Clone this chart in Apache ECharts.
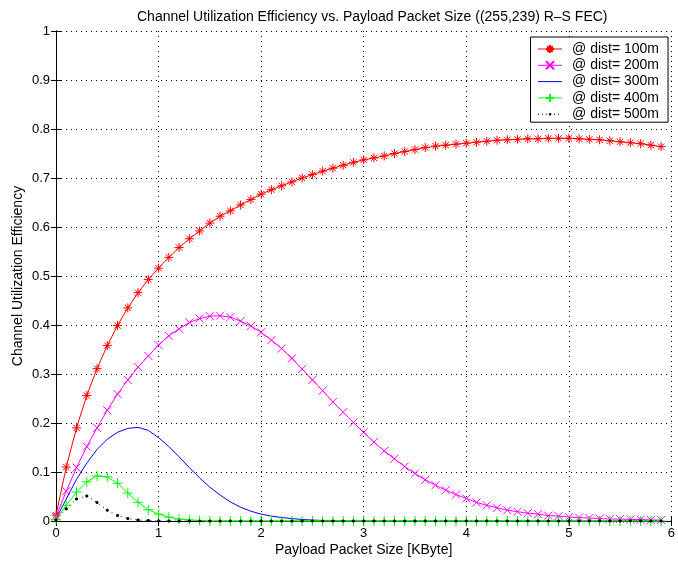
<!DOCTYPE html>
<html>
<head>
<meta charset="utf-8">
<script src="https://cdn.jsdelivr.net/npm/echarts@6/dist/echarts.min.js"></script>
<style>
  html, body { margin: 0; padding: 0; background: #fff; }
  #main { width: 678px; height: 563px; }
</style>
</head>
<body>
<div id="main"></div>
<script>
// payload size [KByte], one sample every 0.1
var xs = [0.0, 0.1, 0.2, 0.3, 0.4, 0.5, 0.6, 0.7, 0.8, 0.9,
	1.0, 1.1, 1.2, 1.3, 1.4, 1.5, 1.6, 1.7, 1.8, 1.9,
	2.0, 2.1, 2.2, 2.3, 2.4, 2.5, 2.6, 2.7, 2.8, 2.9,
	3.0, 3.1, 3.2, 3.3, 3.4, 3.5, 3.6, 3.7, 3.8, 3.9,
	4.0, 4.1, 4.2, 4.3, 4.4, 4.5, 4.6, 4.7, 4.8, 4.9,
	5.0, 5.1, 5.2, 5.3, 5.4, 5.5, 5.6, 5.7, 5.8, 5.9];

var eff100 = [0.012, 0.110, 0.190, 0.256, 0.311, 0.358, 0.399, 0.435, 0.466, 0.493,
	0.516, 0.538, 0.558, 0.576, 0.592, 0.608, 0.622, 0.633, 0.645, 0.656,
	0.667, 0.676, 0.684, 0.692, 0.700, 0.707, 0.714, 0.720, 0.726, 0.732,
	0.737, 0.741, 0.745, 0.750, 0.754, 0.758, 0.762, 0.765, 0.767, 0.769,
	0.771, 0.773, 0.775, 0.777, 0.778, 0.779, 0.780, 0.780, 0.781, 0.781,
	0.781, 0.780, 0.779, 0.778, 0.776, 0.774, 0.772, 0.770, 0.767, 0.764];

var eff200 = [0.009, 0.061, 0.109, 0.152, 0.190, 0.226, 0.259, 0.288, 0.314, 0.337,
	0.359, 0.378, 0.392, 0.405, 0.413, 0.418, 0.419, 0.416, 0.408, 0.398,
	0.385, 0.369, 0.352, 0.332, 0.310, 0.288, 0.266, 0.243, 0.222, 0.201,
	0.181, 0.161, 0.143, 0.127, 0.111, 0.097, 0.084, 0.073, 0.063, 0.054,
	0.046, 0.038, 0.032, 0.027, 0.022, 0.019, 0.016, 0.014, 0.011, 0.010,
	0.008, 0.007, 0.006, 0.005, 0.004, 0.004, 0.003, 0.003, 0.002, 0.002];

var eff300 = [0.005, 0.045, 0.085, 0.118, 0.146, 0.167, 0.181, 0.189, 0.191, 0.185,
	0.170, 0.152, 0.131, 0.109, 0.088, 0.069, 0.053, 0.039, 0.028, 0.020,
	0.014, 0.010, 0.007, 0.005, 0.003, 0.002, 0.001, 0.001, 0, 0,
	0, 0, 0, 0, 0, 0, 0, 0, 0, 0,
	0, 0, 0, 0, 0, 0, 0, 0, 0, 0,
	0, 0, 0, 0, 0, 0, 0, 0, 0, 0];

var eff400 = [0.003, 0.032, 0.059, 0.080, 0.092, 0.090, 0.077, 0.057, 0.038, 0.023,
	0.014, 0.008, 0.004, 0.002, 0.001, 0, 0, 0, 0, 0,
	0, 0, 0, 0, 0, 0, 0, 0, 0, 0,
	0, 0, 0, 0, 0, 0, 0, 0, 0, 0,
	0, 0, 0, 0, 0, 0, 0, 0, 0, 0,
	0, 0, 0, 0, 0, 0, 0, 0, 0, 0];

var eff500 = [0.002, 0.025, 0.045, 0.051, 0.038, 0.022, 0.011, 0.005, 0.002, 0.001,
	0, 0, 0, 0, 0, 0, 0, 0, 0, 0,
	0, 0, 0, 0, 0, 0, 0, 0, 0, 0,
	0, 0, 0, 0, 0, 0, 0, 0, 0, 0,
	0, 0, 0, 0, 0, 0, 0, 0, 0, 0,
	0, 0, 0, 0, 0, 0, 0, 0, 0, 0];

var seriesNames = ['@ dist= 100m', '@ dist= 200m', '@ dist= 300m', '@ dist= 400m', '@ dist= 500m'];

// matlab style markers, drawn as strokes
var starPath = 'path://M0,-10L0,10M-10,0L10,0M-7,-7L7,7M-7,7L7,-7';
var xPath = 'path://M-10,-10L10,10M-10,10L10,-10';
var plusPath = 'path://M0,-10L0,10M-10,0L10,0';
// only move-tos: keeps the legend from drawing a marker for the plain line
var nonePath = 'path://M-10,-10M10,10';
// small dot inside a 20x20 frame so the legend dot stays small
var dotPath = 'path://M-10,-10M10,10M-3,-1.2L-1.2,-3L1.2,-3L3,-1.2L3,1.2L1.2,3L-1.2,3L-3,1.2Z';

var FONT = 'Liberation Sans, Arial, Helvetica, sans-serif';

function pairs(ys) {
	var out = [];
	for (var i = 0; i < xs.length; i++) {
		out.push([xs[i], ys[i]]);
	}
	return out;
}

function markerSeries(name, ys, color, symbol, size, lineType, bw) {
	return {
		name : name,
		type : 'line',
		data : pairs(ys),
		symbol : symbol,
		symbolSize : size,
		showAllSymbol : true,
		color : color,
		lineStyle : { color : color, width : 1, type : lineType || 'solid' },
		itemStyle : { color : color, borderColor : color, borderWidth : bw == null ? 1 : bw },
		emphasis : { disabled : true },
		z : 3
	};
}

var chart = echarts.init(document.getElementById('main'));

var gridLine = { show : true, lineStyle : { color : '#000', width : 1, type : [1, 4] } };

var option = {
	animation : false,
	backgroundColor : '#fff',
	textStyle : { fontFamily : FONT },
	title : {
		text : 'Channel Utilization Efficiency vs. Payload Packet Size ((255,239) R\u2013S FEC)',
		left : 132,
		top : 5,
		textStyle : { fontFamily : FONT, fontSize : 14, fontWeight : 'normal', color : '#000' }
	},
	legend : {
		data : [
			{ name : seriesNames[0] },
			{ name : seriesNames[1] },
			{ name : seriesNames[2], lineStyle : { color : '#0000ff', width : 1 } },
			{ name : seriesNames[3] },
			{ name : seriesNames[4], lineStyle : { type : [1, 3], width : 1 } }
		],
		orient : 'vertical',
		right : 10,
		top : 37,
		itemWidth : 24,
		itemHeight : 10,
		itemGap : 2.3,
		padding : [5, 9, 1, 7],
		backgroundColor : '#fff',
		borderColor : '#000',
		borderWidth : 1,
		borderRadius : 0,
		lineStyle : { width : 1 },
		textStyle : { fontFamily : FONT, fontSize : 14, lineHeight : 14, color : '#000', padding : [0, 0, 0, 5] }
	},
	grid : { left : 56, right : 1, top : 31, bottom : 42 },
	xAxis : [ {
		type : 'value',
		min : 0,
		max : 6,
		interval : 1,
		position : 'bottom',
		name : 'Payload Packet Size [KByte]',
		nameLocation : 'middle',
		nameGap : 22,
		nameMoveOverlap : false,
		nameTextStyle : { fontFamily : FONT, fontSize : 14, color : '#000' },
		axisLine : { show : true, lineStyle : { color : '#000', width : 1 } },
		axisTick : { show : true, inside : true, length : 5, lineStyle : { color : '#000' } },
		axisLabel : { fontFamily : FONT, fontSize : 13, color : '#000', margin : 6 },
		splitLine : gridLine
	}, {
		type : 'value',
		min : 0,
		max : 6,
		interval : 1,
		position : 'top',
		axisLine : { show : true, lineStyle : { color : '#000', width : 1 } },
		axisTick : { show : true, inside : true, length : 5, lineStyle : { color : '#000' } },
		axisLabel : { show : false },
		splitLine : { show : false }
	} ],
	yAxis : [ {
		type : 'value',
		min : 0,
		max : 1,
		interval : 0.1,
		position : 'left',
		name : 'Channel Utilization Efficiency',
		nameLocation : 'middle',
		nameGap : 31,
		nameMoveOverlap : false,
		nameTextStyle : { fontFamily : FONT, fontSize : 14, color : '#000' },
		axisLine : { show : true, lineStyle : { color : '#000', width : 1 } },
		axisTick : { show : true, inside : true, length : 5, lineStyle : { color : '#000' } },
		axisLabel : {
			fontFamily : FONT,
			fontSize : 13,
			color : '#000',
			margin : 6,
			formatter : function(v) {
				return String(Math.round(v * 10) / 10);
			}
		},
		splitLine : gridLine
	}, {
		type : 'value',
		min : 0,
		max : 1,
		interval : 0.1,
		position : 'right',
		axisLine : { show : true, lineStyle : { color : '#000', width : 1 } },
		axisTick : { show : true, inside : true, length : 5, lineStyle : { color : '#000' } },
		axisLabel : { show : false },
		splitLine : { show : false }
	} ],
	series : [
		markerSeries(seriesNames[0], eff100, '#ff0000', starPath, 9),
		markerSeries(seriesNames[1], eff200, '#ff00ff', xPath, 8),
		markerSeries(seriesNames[2], eff300, '#0000ff', nonePath, 1),
		markerSeries(seriesNames[3], eff400, '#00ff00', plusPath, 10),
		markerSeries(seriesNames[4], eff500, '#000000', dotPath, 10, [1, 4], 0)
	]
};

chart.setOption(option);
</script>
</body>
</html>
